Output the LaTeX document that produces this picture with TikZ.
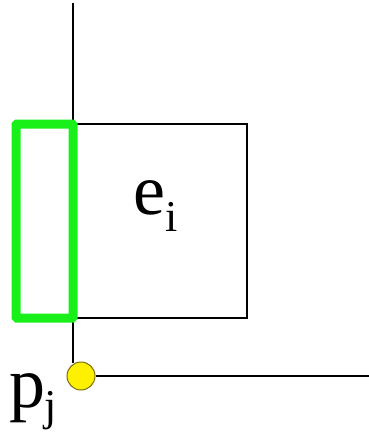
\documentclass[tikz,border=0pt]{standalone}
\usepackage{fontspec}
\setmainfont{Liberation Serif}
\definecolor{grn}{RGB}{25,240,25}
\definecolor{ylw}{RGB}{255,240,0}
\definecolor{ylwedge}{RGB}{120,110,20}
\begin{document}
\begin{tikzpicture}[x=1pt,y=-1pt,
  edge/.style={draw=black,line width=1.4pt},
  hilite/.style={draw=grn,line width=9pt,rounded corners=1pt},
  pt/.style={circle,fill=ylw,draw=ylwedge,line width=1pt,minimum size=28pt,inner sep=0pt},
  big/.style={inner sep=0pt,anchor=base west,font=\fontsize{72}{72}\selectfont},
  sub/.style={inner sep=0pt,anchor=base west,font=\fontsize{44}{44}\selectfont}]
\fill[white] (0,0) rectangle (369,434);
\useasboundingbox (0,0) rectangle (369,434);
\coordinate (top) at (73,3);
\coordinate (right) at (369,376);
\node[pt] (p) at (81,376) {};
% vertical and horizontal axes
\draw[edge] (top) -- (73,363);
\draw[edge] (p.east) -- (right);
% element square
\draw[edge] (73,124) rectangle (247,318);
% green highlight
\draw[hilite] (16,124) rectangle (73,318);
% labels
\node[big] (e) at (133,214) {e};
\node[sub] (ei) at (165,231) {i};
\node[big] (pl) at (9,407) {p};
\node[sub] (pj) at (44,420) {j};
\end{tikzpicture}
\end{document}
